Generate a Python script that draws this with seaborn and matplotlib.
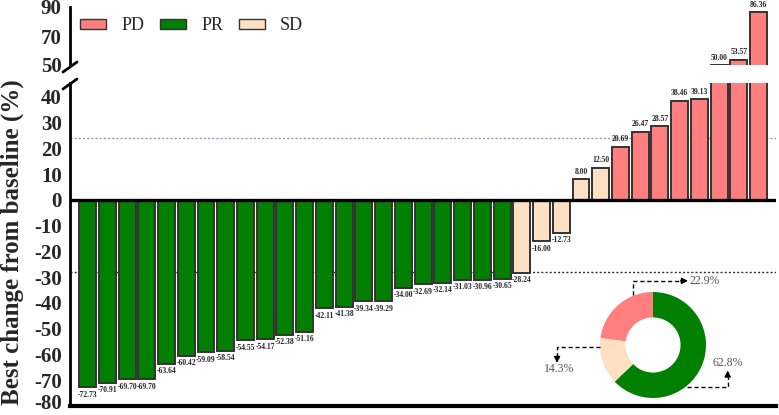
import matplotlib
matplotlib.use("Agg")
import matplotlib.pyplot as plt
import matplotlib.patches as mpatches
import matplotlib.transforms as mtransforms
import seaborn as sns
import numpy as np
import pandas as pd

# ---------------- data ----------------
pr_values = [-72.73, -70.91, -69.70, -69.70, -63.64, -60.42, -59.09, -58.54,
             -54.55, -54.17, -52.38, -51.16, -42.11, -41.38, -39.34, -39.29,
             -34.00, -32.69, -32.14, -31.03, -30.96, -30.65]
sd_values = [-28.24, -16.00, -12.73, 8.00, 12.50]
pd_values = [20.69, 26.47, 28.57, 38.46, 39.13, 50.00, 53.57, 86.36]
categories = ["PD", "PR", "SD"]
colors = {"PD": "#FF7F7F", "PR": "#007F00", "SD": "#FFE0C2"}
pie_order = ["PR", "SD", "PD"]
pie_labels = ["62.8%", "14.3%", "22.9%"]
ref_lines = [24, -28]
lower_ticks = list(range(-80, 41, 10))
upper_ticks = [50, 70, 90]

values = pr_values + sd_values + pd_values
groups = ["PR"] * len(pr_values) + ["SD"] * len(sd_values) + ["PD"] * len(pd_values)
df = pd.DataFrame({"idx": np.arange(len(values)), "value": values, "group": groups})

sns.set_theme(style="white")
plt.rcParams["font.family"] = ["Liberation Serif", "DejaVu Serif"]

W, H = 779, 415
fig = plt.figure(figsize=(W / 100, H / 100), dpi=100)

def fx(px):
    return px / W

def fy(py):
    return 1 - py / H

ax_lo = fig.add_axes([fx(70), fy(406), fx(776) - fx(70), fy(83) - fy(406)])
ax_hi = fig.add_axes([fx(70), fy(65), fx(776) - fx(70), fy(7) - fy(65)])

xlim = (-0.89, 34.88)
for ax in (ax_lo, ax_hi):
    sns.barplot(data=df, x="idx", y="value", hue="group", hue_order=categories,
                palette=colors, dodge=False, width=0.86, edgecolor="#333333",
                linewidth=1.4, legend=False, ax=ax, saturation=1, native_scale=True)
    ax.set_xlim(*xlim)
    ax.set_xlabel("")
    ax.set_ylabel("")
    ax.set_xticks([])
    for s in ("top", "right"):
        ax.spines[s].set_visible(False)
    ax.spines["left"].set_linewidth(2)
    ax.spines["left"].set_color("black")
    ax.tick_params(axis="y", direction="out", length=5, width=2, color="black",
                   labelsize=15, pad=1)

ax_lo.set_ylim(-80, 45.4)
ax_lo.set_yticks(lower_ticks)
ax_lo.set_yticklabels([str(t) for t in lower_ticks], fontweight="bold")
ax_lo.spines["bottom"].set_linewidth(3)
ax_lo.spines["bottom"].set_color("black")
ax_lo.axhline(0, color="black", lw=2.4, zorder=5)
ax_lo.axhline(ref_lines[0], color="#A58FC0", lw=1, ls=(0, (1.5, 1.5)), zorder=0)
ax_lo.axhline(ref_lines[1], color="#333333", lw=1, ls=(0, (1.5, 1.5)), zorder=0)

# keep the lowest tick label inside the figure
lowest = ax_lo.get_yticklabels()[0]
lowest.set_transform(lowest.get_transform() +
                     mtransforms.ScaledTranslation(0, 3 / 72, fig.dpi_scale_trans))

ax_hi.set_ylim(50, 90)
ax_hi.set_yticks(upper_ticks)
ax_hi.set_yticklabels([str(t) for t in upper_ticks], fontweight="bold")
ax_hi.spines["bottom"].set_visible(False)
ax_hi.patch.set_alpha(0)

# bar value labels
for i, v in enumerate(values):
    txt = f"{v:.2f}"
    if v >= 45:
        ax_hi.annotate(txt, (i, v), xytext=(0, 2.5), textcoords="offset points",
                       ha="center", va="bottom", fontsize=5.5, fontweight="bold",
                       annotation_clip=False)
    elif v >= 0:
        ax_lo.annotate(txt, (i, v), xytext=(0, 2.5), textcoords="offset points",
                       ha="center", va="bottom", fontsize=5.5, fontweight="bold")
    else:
        ax_lo.annotate(txt, (i, v), xytext=(0, -2.5), textcoords="offset points",
                       ha="center", va="top", fontsize=5.5, fontweight="bold")

# break marks
for ypx in (67, 84):
    fig.lines.append(plt.Line2D([fx(63), fx(77)], [fy(ypx + 5), fy(ypx - 5)],
                                transform=fig.transFigure, color="black", lw=2))

# legend
handles = [mpatches.Patch(facecolor=colors[c], edgecolor="#333333", lw=1, label=c)
           for c in categories]
ax_hi.legend(handles=handles, loc="upper left", bbox_to_anchor=(-0.009, 1.1), ncol=3,
             frameon=False, fontsize=13, handlelength=1.45, handleheight=0.4,
             handletextpad=0.85, columnspacing=0.85)

# y label
fig.text(fx(12), fy(242), "Best change from baseline (%)", rotation=90,
         ha="center", va="center", fontsize=18, fontweight="bold")

# donut
cx, cy, r = 653, 345, 53
ax_pie = fig.add_axes([fx(cx - r), fy(cy + r), fx(2 * r), fy(cy - r) - fy(cy + r)])
counts = [groups.count(c) for c in pie_order]
ax_pie.pie(counts, colors=[colors[c] for c in pie_order], startangle=90,
           counterclock=False, radius=1, wedgeprops=dict(width=0.48, linewidth=0))
ax_pie.set_xlim(-1, 1)
ax_pie.set_ylim(-1, 1)
ax_pie.axis("off")

def dashed_arrow(pts, head_dir):
    xs = [p[0] for p in pts]
    ys = [p[1] for p in pts]
    ax_pie.plot(xs, ys, color="black", lw=1, ls=(0, (3, 2)), clip_on=False)
    ex, ey = pts[-1]
    ax_pie.annotate("", xy=(ex + head_dir[0], ey + head_dir[1]), xytext=(ex, ey),
                    arrowprops=dict(arrowstyle="-|>", color="black", lw=1,
                                    mutation_scale=9, shrinkA=0, shrinkB=0),
                    annotation_clip=False)

txt_kw = dict(fontsize=8.5, color="#555555", annotation_clip=False)
# 22.9%
dashed_arrow([(-0.38, 0.95), (-0.38, 1.21), (0.52, 1.21)], (0.14, 0))
ax_pie.annotate(pie_labels[2], (0.68, 1.21), ha="left", va="center", **txt_kw)
# 14.3%
dashed_arrow([(-1.0, -0.04), (-1.81, -0.04), (-1.81, -0.22)], (0, -0.12))
ax_pie.annotate(pie_labels[1], (-1.77, -0.46), ha="center", va="center", **txt_kw)
# 62.8%
dashed_arrow([(0.64, -0.79), (1.41, -0.79), (1.41, -0.60)], (0, 0.12))
ax_pie.annotate(pie_labels[0], (1.40, -0.34), ha="center", va="center", **txt_kw)

fig.savefig("out.png", dpi=100)
